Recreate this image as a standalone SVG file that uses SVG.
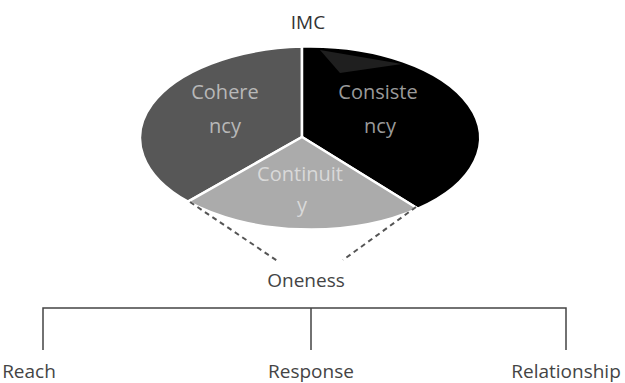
<svg xmlns="http://www.w3.org/2000/svg" width="625" height="383" viewBox="0 0 625 383">
<style>
text{font-family:"Open Sans","Noto Sans","DejaVu Sans",sans-serif;font-size:19px;text-anchor:middle}
.lbl{fill:#444}
.pie{font-size:20px}
.sec{stroke:#fff;stroke-width:2.5;stroke-linejoin:round}
.dash{stroke:#555;stroke-width:2;stroke-dasharray:5 4;fill:none}
.tree{stroke:#444;stroke-width:1.5;fill:none}
</style>
<defs>
<clipPath id="ell"><ellipse cx="310" cy="138" rx="170" ry="91.5"/></clipPath>
</defs>
<rect width="625" height="383" fill="#fff"/>
<g id="imc"><text class="lbl" x="308" y="29" style="fill:#333">IMC</text></g>
<g id="coherency">
<path class="sec" fill="#575757" d="M302,137 L188,201.7 A170,91.5 0 0 1 302,46.6 Z"/>
<text class="pie" x="225" y="99" fill="#b8b8b8">Cohere</text>
<text class="pie" x="225" y="133" fill="#b8b8b8">ncy</text>
</g>
<g id="consistency">
<path class="sec" fill="#000" d="M302,137 L302,46.6 A170,91.5 0 0 1 418,208.7 Z"/>
<polygon clip-path="url(#ell)" points="320,50 402,64 340,73" fill="#1f1f1f"/>
<text class="pie" x="378" y="99" fill="#9a9a9a">Consiste</text>
<text class="pie" x="380" y="133" fill="#9a9a9a">ncy</text>
</g>
<g id="continuity">
<path class="sec" fill="#ababab" d="M302,137 L418,208.7 A170,91.5 0 0 1 188,201.7 Z"/>
<text class="pie" x="300" y="181" fill="#d9d9d9">Continuit</text>
<text class="pie" x="302" y="212" fill="#d9d9d9">y</text>
</g>
<g id="oneness"><text class="lbl" x="306" y="287">Oneness</text></g>
<g id="reach"><text class="lbl" x="29" y="378">Reach</text></g>
<g id="response"><text class="lbl" x="311" y="378">Response</text></g>
<g id="relationship"><text class="lbl" x="566" y="378">Relationship</text></g>
<g id="connectors">
<path class="dash" d="M190,202 L279,262"/>
<path class="dash" d="M416,207 L343,260"/>
<path class="tree" d="M43,350 V308 H566 V350 M311,308 V350"/>
</g>
</svg>
